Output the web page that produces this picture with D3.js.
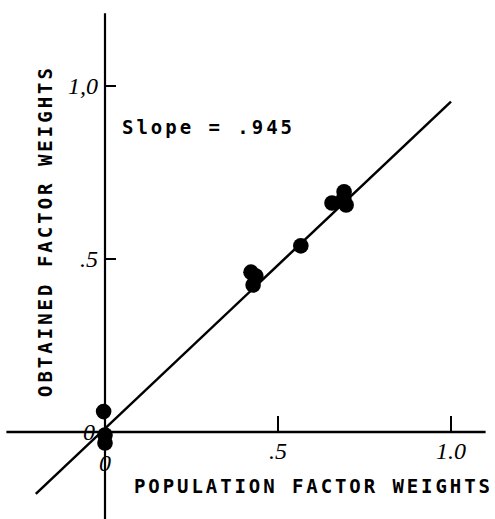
<!DOCTYPE html>
<html>
<head>
<meta charset="utf-8">
<script src="https://cdn.jsdelivr.net/npm/d3@7"></script>
<style>
  body { margin: 0; background: #fff; }
  svg { display: block; }
</style>
</head>
<body>
<svg id="chart"></svg>
<script>
// population (x) vs obtained (y) factor weights
const popWeights = [0.566, 0.656, 0.691, 0.697, 0.690, 0.422, 0.436, 0.428, -0.004, 0.0, 0.0];
const obtWeights = [0.538, 0.662, 0.694, 0.656, 0.675, 0.462, 0.451, 0.425, 0.059, -0.009, -0.032];

const slope = 0.945;
const intercept = 0.01;
const fitRange = [-0.2, 1.0];

const xTicks = [0, 0.5, 1.0];
const xTickLabels = ["0", ".5", "1.0"];
const yTicks = [0, 0.5, 1.0];
const yTickLabels = ["0", ".5", "1,0"];

const width = 495, height = 519;

const svg = d3.select("#chart")
  .attr("width", width)
  .attr("height", height);

const x = d3.scaleLinear().domain([0, 1]).range([105, 451]);
const y = d3.scaleLinear().domain([0, 1]).range([432, 86]);

const ink = "#000";
const typeFont = "'DejaVu Sans Mono', 'Liberation Mono', monospace";
const handFont = "'Liberation Serif', 'DejaVu Serif', serif";

// axes cross at the origin
svg.append("line")
  .attr("x1", x(-0.285)).attr("x2", x(1.1))
  .attr("y1", y(0)).attr("y2", y(0))
  .attr("stroke", ink).attr("stroke-width", 2.5);

svg.append("line")
  .attr("x1", x(0)).attr("x2", x(0))
  .attr("y1", y(1.21)).attr("y2", y(-0.26))
  .attr("stroke", ink).attr("stroke-width", 2.2);

// tick marks
svg.selectAll(".xtick")
  .data(xTicks.filter(d => d > 0))
  .enter().append("line")
  .attr("x1", d => x(d)).attr("x2", d => x(d))
  .attr("y1", y(0)).attr("y2", y(0) - 16)
  .attr("stroke", ink).attr("stroke-width", 2);

svg.selectAll(".ytick")
  .data(yTicks.filter(d => d > 0))
  .enter().append("line")
  .attr("x1", x(0)).attr("x2", x(0) + 11)
  .attr("y1", d => y(d)).attr("y2", d => y(d))
  .attr("stroke", ink).attr("stroke-width", 2);

// handwritten tick labels
svg.selectAll(".xlab")
  .data(xTicks)
  .enter().append("text")
  .attr("x", d => x(d))
  .attr("y", (d, i) => i === 0 ? 471 : 459)
  .attr("text-anchor", "middle")
  .attr("font-family", handFont)
  .attr("font-style", "italic")
  .attr("font-size", 24)
  .attr("fill", ink)
  .text((d, i) => xTickLabels[i]);

svg.selectAll(".ylab")
  .data(yTicks)
  .enter().append("text")
  .attr("x", (d, i) => i === 0 ? 95 : 98)
  .attr("y", d => y(d) + 8)
  .attr("text-anchor", "end")
  .attr("font-family", handFont)
  .attr("font-style", "italic")
  .attr("font-size", 24)
  .attr("fill", ink)
  .text((d, i) => yTickLabels[i]);

// fitted line
svg.append("line")
  .attr("x1", x(fitRange[0])).attr("y1", y(slope * fitRange[0] + intercept))
  .attr("x2", x(fitRange[1])).attr("y2", y(slope * fitRange[1] + intercept))
  .attr("stroke", ink).attr("stroke-width", 2.5);

// points
svg.selectAll(".dot")
  .data(popWeights.map((d, i) => [d, obtWeights[i]]))
  .enter().append("circle")
  .attr("cx", d => x(d[0]))
  .attr("cy", d => y(d[1]))
  .attr("r", 7.8)
  .attr("fill", ink);

// typed labels
svg.append("text")
  .attr("x", 122).attr("y", 134)
  .attr("font-family", typeFont)
  .attr("font-weight", "bold")
  .attr("font-size", 19)
  .attr("textLength", 170)
  .attr("fill", ink)
  .text("Slope = .945");

svg.append("text")
  .attr("x", 134).attr("y", 493)
  .attr("font-family", typeFont)
  .attr("font-weight", "bold")
  .attr("font-size", 19)
  .attr("textLength", 356)
  .attr("fill", ink)
  .text("POPULATION FACTOR WEIGHTS");

svg.append("text")
  .attr("transform", "translate(52,397) rotate(-90)")
  .attr("font-family", typeFont)
  .attr("font-weight", "bold")
  .attr("font-size", 19)
  .attr("textLength", 329)
  .attr("fill", ink)
  .text("OBTAINED FACTOR WEIGHTS");
</script>
</body>
</html>
